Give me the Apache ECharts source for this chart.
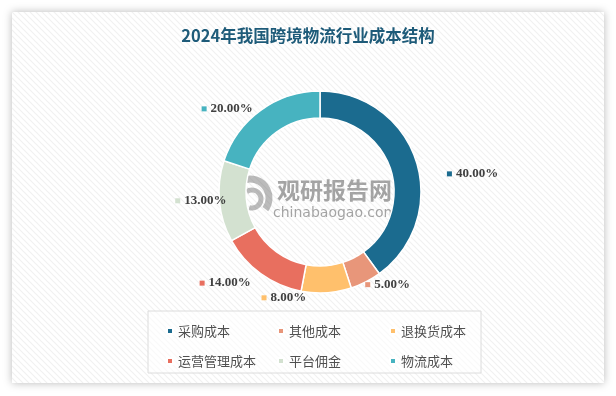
<!DOCTYPE html>
<html><head><meta charset="utf-8">
<script src="https://cdn.jsdelivr.net/npm/echarts@6/dist/echarts.min.js"></script>
<style>html,body{margin:0;padding:0;background:#fff}#c{width:616px;height:396px}</style>
</head><body><div id="c"></div>
<script>
const title = '2024年我国跨境物流行业成本结构';
const categories = ['采购成本','其他成本','退换货成本','运营管理成本','平台佣金','物流成本'];
const values = [40, 5, 8, 14, 13, 20];
const colors = ['#1b6b8f','#e8967a','#ffc06c','#e86f5f','#d3e1d0','#47b3c0'];
const legendCols = [['采购成本','运营管理成本'],['其他成本','平台佣金'],['退换货成本','物流成本']];
// label nudges (style offsets) to mimic the original placement
const labelShift = [[17,14],[-13,0],[-76,2],[3,7],[21,-1],[5,1]];

const pc = document.createElement('canvas');
pc.width = 6; pc.height = 6;
const g = pc.getContext('2d');
g.fillStyle = '#ffffff'; g.fillRect(0,0,6,6);
g.strokeStyle = '#f1f1f1'; g.lineWidth = 1.2;
g.beginPath(); g.moveTo(0,0); g.lineTo(6,6); g.moveTo(-3,3); g.lineTo(3,9); g.moveTo(3,-3); g.lineTo(9,3); g.stroke();

const rich = {v:{fontFamily:'Liberation Serif',fontWeight:'bold',fontSize:13,color:'#404040',padding:[0,0,0,4]}};
colors.forEach((c,i)=>{rich['m'+i] = {width:5,height:5,backgroundColor:c};});

const chart = echarts.init(document.getElementById('c'), null, {renderer:'canvas'});
const legends = legendCols.map((col,k)=>({
  orient:'vertical', left:[161,272,384][k], top:319, data:col,
  icon:'rect', itemWidth:6, itemHeight:6, itemGap:16,
  textStyle:{fontSize:13, color:'#505050', lineHeight:14, fontFamily:'Noto Sans CJK SC'}
}));

chart.setOption({
  animation:false,
  backgroundColor:'#ffffff',
  color: colors,
  title:{text:title, left:'center', top:22,
    textStyle:{fontSize:16.5, fontWeight:'bold', color:'#1e5b79', fontFamily:'Noto Sans CJK SC'}},
  graphic:[
    {type:'rect', z:-10, shape:{x:12,y:12,width:592,height:371},
      style:{fill:{image:pc, repeat:'repeat'}, shadowBlur:9, shadowColor:'rgba(0,0,0,0.28)'}},
    {type:'rect', z:-5, shape:{x:148,y:311,width:333,height:62},
      style:{fill:'rgba(255,255,255,0.6)', stroke:'#dcdcdc', lineWidth:1}},
    {type:'group', z:100, silent:true, children:[
      {type:'arc', shape:{cx:250,cy:198,r:19,startAngle:Math.PI*0.85,endAngle:Math.PI*2.2}, style:{stroke:'rgba(120,120,120,0.5)',lineWidth:7,fill:null}},
      {type:'arc', shape:{cx:252,cy:199,r:9,startAngle:Math.PI*1.3,endAngle:Math.PI*2.6}, style:{stroke:'rgba(120,120,120,0.5)',lineWidth:5,fill:null}},
      {type:'text', style:{x:277,y:190,text:'观研报告网',font:'bold 23px "Noto Sans CJK SC"',fill:'rgba(110,110,110,0.62)',verticalAlign:'middle'}},
      {type:'text', style:{x:273,y:213,text:'chinabaogao.com',font:'14px "DejaVu Sans"',fill:'rgba(110,110,110,0.62)',verticalAlign:'middle'}}
    ]}
  ],
  legend: legends,
  series:[{
    type:'pie', center:[320,192], radius:[74,101], startAngle:90,
    avoidLabelOverlap:false,
    itemStyle:{borderColor:'#fff', borderWidth:1.5},
    label:{show:true, position:'outside', formatter:p=>'{m'+p.dataIndex+'|}{v|'+p.value.toFixed(2)+'%}', rich:rich},
    labelLine:{show:true, length:3, length2:6, lineStyle:{color:'#ffffff', width:1}},
    labelLayout:function(p){ const s = labelShift[p.dataIndex]; return {dx:s[0], dy:s[1], hideOverlap:false}; },
    data: categories.map((n,i)=>({name:n, value:values[i]}))
  }]
});
</script></body></html>
